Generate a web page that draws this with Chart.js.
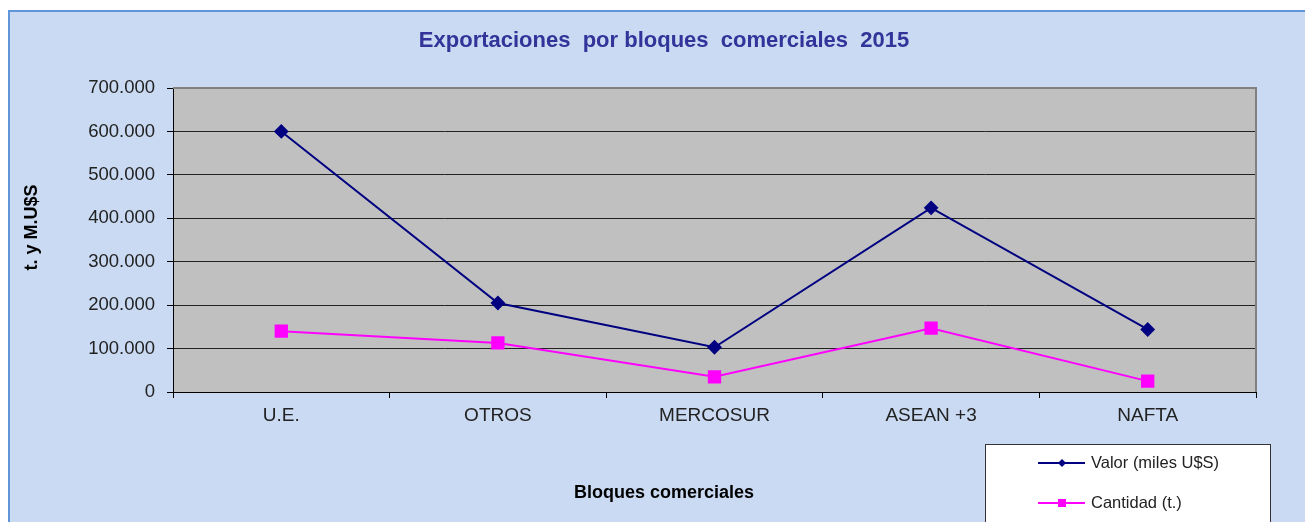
<!DOCTYPE html>
<html>
<head>
<meta charset="utf-8">
<script src="https://cdn.jsdelivr.net/npm/chart.js@4/dist/chart.umd.min.js"></script>
<style>
    html, body { margin: 0; padding: 0; background: #fff; overflow: hidden; }
    #frame {
        position: absolute; left: 8px; top: 10px; width: 1400px; height: 600px;
        background: #C9DAF2; border-top: 2px solid #5E95DB; border-left: 2px solid #5E95DB;
    }
    #wrap { position: absolute; left: 0; top: 0; width: 1305px; height: 522px; }
</style>
</head>
<body>
<div id="frame"></div>
<div id="wrap"><canvas id="ExportChart" width="1305" height="522"></canvas></div>
<script>
    var bloques = ['U.E.', 'OTROS', 'MERCOSUR', 'ASEAN +3', 'NAFTA'];
    var valor = [600000, 205000, 103000, 424000, 144000];
    var cantidad = [140000, 113000, 35000, 147000, 25000];
    var serieNombres = ['Valor (miles U$S)', 'Cantidad (t.)'];
    var titulo = 'Exportaciones  por bloques  comerciales  2015';
    var tituloX = 'Bloques comerciales';

    var FONT = '"Liberation Sans", Arial, sans-serif';

    //plot area: grey fill + border, titles centred on the frame//
    var plotBg = {
        id: 'plotBg',
        beforeDatasetsDraw: function (chart) {
            var a = chart.chartArea, ctx = chart.ctx;
            ctx.save();
            ctx.strokeStyle = '#808080';
            ctx.lineWidth = 2;
            ctx.beginPath();
            ctx.moveTo(a.left, a.top);
            ctx.lineTo(a.right, a.top);
            ctx.lineTo(a.right, a.bottom);
            ctx.stroke();
            ctx.restore();
        },
        beforeDraw: function (chart) {
            var a = chart.chartArea, ctx = chart.ctx;
            ctx.save();
            ctx.fillStyle = '#C0C0C0';
            ctx.fillRect(a.left, a.top, a.right - a.left, a.bottom - a.top);
            ctx.textAlign = 'center';
            ctx.textBaseline = 'middle';
            ctx.fillStyle = '#333399';
            ctx.font = 'bold 22px ' + FONT;
            ctx.fillText(titulo, 664, 41);
            ctx.fillStyle = '#000';
            ctx.font = 'bold 18px ' + FONT;
            ctx.fillText(tituloX, 664, 493);
            ctx.restore();
        }
    };

    //legend box bottom right//
    var boxLegend = {
        id: 'boxLegend',
        afterDraw: function (chart) {
            var ctx = chart.ctx;
            ctx.save();
            ctx.fillStyle = '#fff';
            ctx.fillRect(985, 444, 285, 90);
            ctx.strokeStyle = '#333';
            ctx.lineWidth = 1;
            ctx.strokeRect(985.5, 444.5, 285, 90);
            ctx.font = '16.5px ' + FONT;
            ctx.textBaseline = 'middle';
            chart.data.datasets.forEach(function (ds, i) {
                var y = 463 + i * 40;
                ctx.strokeStyle = ds.borderColor;
                ctx.lineWidth = 2;
                ctx.beginPath();
                ctx.moveTo(1038, y);
                ctx.lineTo(1085, y);
                ctx.stroke();
                ctx.fillStyle = ds.borderColor;
                ctx.beginPath();
                if (ds.pointStyle === 'rectRot') {
                    ctx.moveTo(1058, y); ctx.lineTo(1062, y - 4); ctx.lineTo(1066, y); ctx.lineTo(1062, y + 4);
                } else {
                    ctx.rect(1058, y - 4, 8, 8);
                }
                ctx.closePath();
                ctx.fill();
                ctx.fillStyle = '#222';
                ctx.fillText(ds.label, 1091, y);
            });
            ctx.restore();
        }
    };

    var ctx = document.getElementById('ExportChart').getContext('2d');
    var myLineChart = new Chart(ctx, {
        type: 'line',
        data: {
            labels: bloques,
            datasets: [{
                label: serieNombres[0],
                data: valor,
                borderColor: '#000080',
                backgroundColor: '#000080',
                borderWidth: 2,
                pointStyle: 'rectRot',
                pointRadius: 6,
                tension: 0
            }, {
                label: serieNombres[1],
                data: cantidad,
                borderColor: '#FF00FF',
                backgroundColor: '#FF00FF',
                borderWidth: 2,
                pointStyle: 'rect',
                pointRadius: 8,
                tension: 0
            }]
        },
        plugins: [plotBg, boxLegend],
        options: {
            responsive: false,
            animation: false,
            layout: { padding: { left: 8, right: 49, top: 88, bottom: 0 } },
            plugins: {
                legend: { display: false },
                tooltip: { enabled: false },
                title: { display: false }
            },
            scales: {
                x: {
                    offset: true,
                    grid: { offset: true, drawOnChartArea: false, color: '#000', tickLength: 6, tickColor: '#000' },
                    border: { color: '#000', width: 1 },
                    ticks: { color: '#222', padding: 6, maxRotation: 0,
                        font: { family: FONT, size: 19 } },
                    afterFit: function (s) { s.height = 130; }
                },
                y: {
                    min: 0, max: 700000,
                    grid: {
                        color: function (c) { return c.tick.value === 700000 ? '#808080' : '#222'; },
                        tickColor: '#000', tickLength: 6
                    },
                    border: { color: '#000', width: 1 },
                    ticks: {
                        stepSize: 100000, color: '#222', padding: 12,
                        font: { family: FONT, size: 18.5 },
                        callback: function (v) { return v.toLocaleString('de-DE'); }
                    },
                    title: {
                        display: true, text: '     t. y M.U$S', color: '#000',
                        font: { family: FONT, size: 18, weight: 'bold' },
                        padding: { top: 13, bottom: 0 }
                    },
                    afterFit: function (s) { s.width = 165; }
                }
            }
        }
    });
</script>
</body>
</html>
